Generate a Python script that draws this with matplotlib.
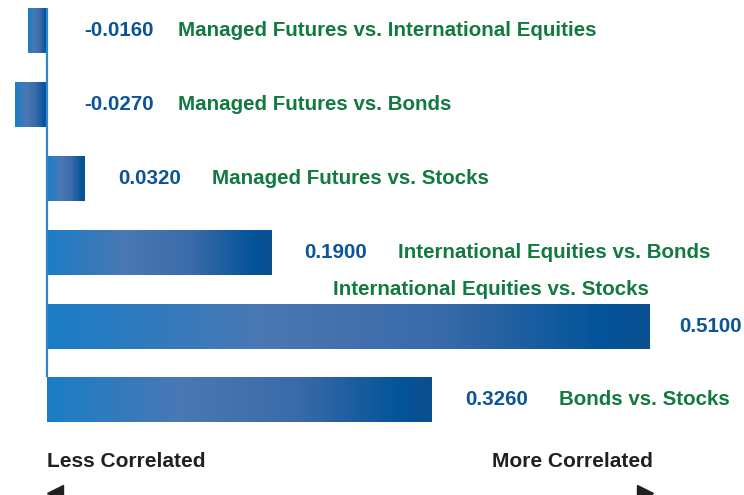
import numpy as np
import matplotlib.pyplot as plt
from matplotlib.colors import LinearSegmentedColormap

# correlations, top to bottom as drawn
pairs = ['Managed Futures vs. International Equities',
         'Managed Futures vs. Bonds',
         'Managed Futures vs. Stocks',
         'International Equities vs. Bonds',
         'International Equities vs. Stocks',
         'Bonds vs. Stocks']
corr = [-0.016, -0.027, 0.032, 0.19, 0.51, 0.326]

blue_txt = '#0b5499'
green_txt = '#127a3e'
dark_txt = '#231f20'

grad = LinearSegmentedColormap.from_list('bar', [
    (0.0, '#1a7dc5'), (0.35, '#4a78b4'), (0.65, '#3a6aa8'),
    (0.92, '#03549a'), (1.0, '#0b4f8f')])

fig = plt.figure(figsize=(7.44, 4.95), dpi=100)
ax = fig.add_axes([0, 0, 1, 1])
ax.set_axis_off()

bar_h = 0.61
ramp = np.linspace(0, 1, 256).reshape(1, -1)
for i, v in enumerate(corr):
    x0, x1 = min(v, 0), max(v, 0)
    ax.imshow(ramp, cmap=grad, aspect='auto', interpolation='bilinear',
              extent=[x0, x1, i + bar_h / 2, i - bar_h / 2], zorder=2)

# zero line
ax.vlines(0, -bar_h / 2, len(corr) - 1 - bar_h / 2, color='#2f86cc', lw=1.6, zorder=3)

font = dict(family='Liberation Sans', fontweight='bold', fontsize=14.8)
for i, (v, name) in enumerate(zip(corr, pairs)):
    if v < 0:
        gap, gap2 = 27, 17
    else:
        gap, gap2 = 24, 22
    if v == max(corr):
        gap = 22
    t = ax.annotate(f'{v:.4f}', xy=(max(v, 0), i), xytext=(gap, 0),
                    textcoords='offset points', va='center', ha='left',
                    color=blue_txt, **font)
    if v == max(corr):
        # label sits above the longest bar, flush with its end
        ax.annotate(name, xy=(v, i - bar_h / 2), xytext=(0, 3),
                    textcoords='offset points', va='bottom', ha='right',
                    color=green_txt, **font)
    else:
        ax.annotate(name, xy=(1, 0.5), xycoords=t, xytext=(gap2, 0),
                    textcoords='offset points', va='center', ha='left',
                    color=green_txt, **font)

ax.set_xlim(-47 / 1180.4, 697 / 1180.4)
ax.set_ylim(6.29, -0.42)

# direction hints under the chart
narrow = dict(family=['Liberation Sans Narrow', 'Liberation Sans'],
              fontweight='bold', fontsize=15, color=dark_txt)
tr = ax.get_xaxis_transform()
ax.text(0, 0.067, 'Less Correlated', transform=tr,
        ha='left', va='center', **narrow)
ax.text(max(corr) + 0.003, 0.067, 'More Correlated', transform=tr,
        ha='right', va='center', **narrow)
ax.plot([0.007], [0.004], marker='<', ms=11, color=dark_txt,
        transform=tr, clip_on=False)
ax.plot([max(corr) - 0.003], [0.004], marker='>', ms=11, color=dark_txt,
        transform=tr, clip_on=False)

fig.savefig('out.png', dpi=100)
